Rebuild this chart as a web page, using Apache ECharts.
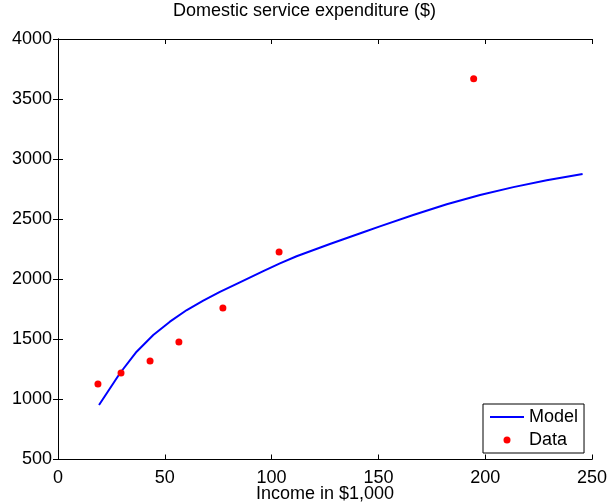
<!DOCTYPE html>
<html>
<head>
<meta charset="utf-8">
<script src="https://cdn.jsdelivr.net/npm/echarts@6/dist/echarts.min.js"></script>
<style>html,body{margin:0;padding:0;background:#fff;}#chart{width:609px;height:503px;}</style>
</head>
<body>
<div id="chart"></div>
<script>
// Data
const dataIncome = [18.7, 29.5, 43.1, 56.6, 77.2, 103.5, 194.6];
const dataExpenditure = [1128, 1220, 1320, 1478, 1761, 2227, 3670];
const modelIncome = [19.2, 29.0, 36.8, 44.6, 52.4, 60.3, 68.0, 75.8, 84.4, 96.1, 103.9, 111.7, 127.3, 142.9, 150.7, 166.3, 182.0, 197.6, 213.2, 228.8, 245.6];
const modelExpenditure = [954, 1218, 1397, 1536, 1647, 1744, 1822, 1895, 1968, 2068, 2132, 2192, 2294, 2392, 2440, 2535, 2624, 2702, 2767, 2825, 2876];
const xTicks = [0, 50, 100, 150, 200, 250];
const yTicks = [500, 1000, 1500, 2000, 2500, 3000, 3500, 4000];

const FONT = "'Liberation Sans', Arial, Helvetica, sans-serif";
const chart = echarts.init(document.getElementById('chart'), null, {renderer: 'canvas'});

function makeAxis(extra) {
  return Object.assign({
    type: 'value',
    axisLine: {show: true, lineStyle: {color: '#000', width: 1}},
    axisTick: {show: true, inside: true, length: 5, lineStyle: {color: '#000', width: 1}},
    splitLine: {show: false},
    axisLabel: {color: '#000', fontSize: 18, fontFamily: FONT, formatter: v => String(v)}
  }, extra);
}

chart.setOption({
  animation: false,
  backgroundColor: '#fff',
  textStyle: {fontFamily: FONT},
  title: {
    text: 'Domestic service expenditure ($)',
    left: 'center',
    top: 2,
    padding: 0,
    textStyle: {fontSize: 18, fontWeight: 'normal', color: '#000', fontFamily: FONT}
  },
  grid: {left: 58, right: 17, top: 39, bottom: 43.5, containLabel: false, outerBoundsMode: 'none'},
  legend: {
    orient: 'vertical',
    left: 483,
    top: 404,
    padding: [4, 6, 4, 7],
    itemGap: 5,
    itemWidth: 34,
    itemHeight: 7,
    borderColor: '#000',
    borderWidth: 1,
    backgroundColor: '#fff',
    textStyle: {fontSize: 18, color: '#000', fontFamily: FONT},
    data: [
      {name: 'Model', icon: 'path://M0,0 H34 V2 H0 Z'},
      {name: 'Data', icon: 'circle'}
    ]
  },
  xAxis: [
    makeAxis({
      min: xTicks[0], max: xTicks[xTicks.length - 1], interval: 50,
      position: 'bottom',
      axisLabel: {color: '#000', fontSize: 18, fontFamily: FONT, margin: 10, formatter: v => String(v)},
      name: 'Income in $1,000',
      nameLocation: 'middle',
      nameGap: 26,
      nameMoveOverlap: false,
      nameTextStyle: {fontSize: 18, color: '#000', fontFamily: FONT}
    }),
    makeAxis({
      min: xTicks[0], max: xTicks[xTicks.length - 1], interval: 50,
      position: 'top',
      axisLabel: {show: false}
    })
  ],
  yAxis: [
    makeAxis({
      min: yTicks[0], max: yTicks[yTicks.length - 1], interval: 500,
      position: 'left',
      axisLabel: {color: '#000', fontSize: 18, fontFamily: FONT, margin: 6, formatter: v => String(v)}
    }),
    makeAxis({
      min: yTicks[0], max: yTicks[yTicks.length - 1], interval: 500,
      position: 'right',
      axisLabel: {show: false}
    })
  ],
  series: [
    {
      name: 'Model',
      type: 'line',
      xAxisIndex: 0, yAxisIndex: 0,
      data: modelIncome.map((x, i) => [x, modelExpenditure[i]]),
      smooth: false,
      showSymbol: false,
      symbol: 'none',
      lineStyle: {color: '#0000ff', width: 2, join: 'round'},
      itemStyle: {color: '#0000ff'},
      z: 3
    },
    {
      name: 'Data',
      type: 'scatter',
      xAxisIndex: 0, yAxisIndex: 0,
      data: dataIncome.map((x, i) => [x, dataExpenditure[i]]),
      symbol: 'circle',
      symbolSize: 7,
      itemStyle: {color: '#ff0000', opacity: 1},
      z: 4
    }
  ]
});
</script>
</body>
</html>
